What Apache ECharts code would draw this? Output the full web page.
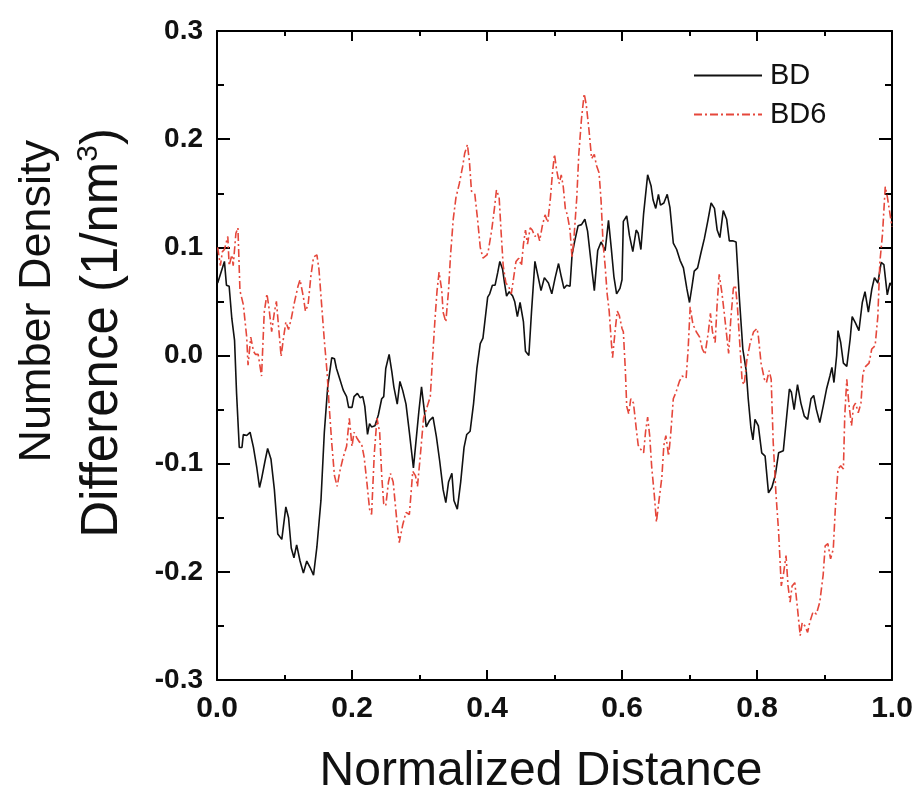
<!DOCTYPE html>
<html>
<head>
<meta charset="utf-8">
<script src="https://cdn.jsdelivr.net/npm/echarts@6/dist/echarts.min.js"></script>
<style>
html,body{margin:0;padding:0;background:#fff;}
#chart{width:917px;height:797px;}
</style>
</head>
<body>
<div id="chart"></div>
<script>
// ---- Data ----
const seriesNames = ["BD", "BD6"];
const xTicks = [0.0, 0.2, 0.4, 0.6, 0.8, 1.0];
const yTicks = [-0.3, -0.2, -0.1, 0.0, 0.1, 0.2, 0.3];

const bdX = [0.001,0.011,0.014,0.018,0.022,0.026,0.029,0.033,0.037,0.039,0.044,0.049,0.054,0.059,0.063,0.066,0.071,0.075,0.080,0.085,0.090,0.096,0.102,0.106,0.110,0.114,0.118,0.123,0.128,0.133,0.138,0.143,0.148,0.154,0.159,0.164,0.170,0.174,0.177,0.182,0.187,0.192,0.195,0.200,
0.203,0.208,0.212,0.216,0.219,0.223,0.226,0.229,0.234,0.239,0.244,0.247,0.250,0.255,0.259,0.262,0.267,0.271,0.275,0.280,0.285,0.291,0.295,0.299,0.303,0.306,0.310,0.315,0.320,0.325,0.330,0.335,0.339,0.343,0.348,0.351,0.356,0.361,0.366,0.370,0.375,0.380,0.385,0.390,0.394,
0.401,0.404,0.408,0.412,0.416,0.419,0.423,0.426,0.429,0.433,0.438,0.441,0.445,0.449,0.454,0.457,0.462,0.466,0.471,0.475,0.480,0.485,0.491,0.496,0.501,0.506,0.510,0.514,0.518,0.523,0.526,0.530,0.535,0.540,0.545,0.549,0.554,0.559,0.564,0.569,0.575,0.580,0.584,0.588,0.592,0.597,
0.600,0.602,0.607,0.611,0.616,0.621,0.624,0.628,0.632,0.638,0.643,0.646,0.650,0.654,0.657,0.662,0.667,0.671,0.676,0.681,0.686,0.691,0.696,0.700,0.704,0.707,0.712,0.717,0.722,0.727,0.732,0.737,0.741,0.745,0.750,0.755,0.759,0.764,0.769,0.774,0.779,0.784,0.787,0.791,0.794,
0.797,0.802,0.807,0.812,0.817,0.822,0.827,0.832,0.839,0.844,0.848,0.851,0.855,0.860,0.865,0.870,0.875,0.880,0.884,0.888,0.893,0.898,0.903,0.908,0.911,0.914,0.918,0.920,0.924,0.928,0.933,0.938,0.941,0.946,0.951,0.956,0.960,0.965,0.970,0.974,0.979,0.984,0.988,0.993,0.997,1.000];
const bdY = [0.067,0.087,0.065,0.064,0.034,0.014,-0.035,-0.085,-0.085,-0.073,-0.074,-0.071,-0.085,-0.104,-0.122,-0.114,-0.098,-0.086,-0.096,-0.124,-0.165,-0.170,-0.140,-0.150,-0.178,-0.187,-0.175,-0.190,-0.201,-0.190,-0.196,-0.203,-0.177,-0.134,-0.071,-0.029,-0.002,-0.003,-0.012,-0.022,-0.032,-0.038,-0.048,-0.048,
-0.038,-0.035,-0.039,-0.038,-0.047,-0.073,-0.063,-0.066,-0.065,-0.055,-0.040,-0.038,-0.012,0.001,-0.015,-0.029,-0.045,-0.024,-0.032,-0.045,-0.071,-0.104,-0.078,-0.052,-0.029,-0.045,-0.066,-0.060,-0.057,-0.075,-0.098,-0.124,-0.136,-0.117,-0.109,-0.134,-0.142,-0.117,-0.085,-0.073,-0.070,-0.045,-0.012,0.011,0.016,
0.054,0.057,0.065,0.065,0.077,0.087,0.080,0.067,0.055,0.059,0.055,0.050,0.036,0.049,0.031,0.004,0.000,0.041,0.087,0.075,0.060,0.072,0.067,0.057,0.072,0.085,0.073,0.062,0.065,0.064,0.093,0.106,0.120,0.121,0.126,0.115,0.087,0.060,0.097,0.105,0.097,0.125,0.100,0.073,0.057,0.062,
0.070,0.124,0.129,0.111,0.096,0.116,0.113,0.098,0.131,0.167,0.157,0.144,0.136,0.149,0.139,0.141,0.149,0.137,0.104,0.098,0.088,0.081,0.062,0.049,0.065,0.078,0.081,0.095,0.108,0.124,0.141,0.136,0.116,0.109,0.134,0.126,0.106,0.106,0.105,0.052,0.006,-0.014,-0.040,-0.067,-0.078,
-0.059,-0.065,-0.090,-0.093,-0.127,-0.122,-0.111,-0.090,-0.088,-0.056,-0.031,-0.034,-0.050,-0.027,-0.044,-0.056,-0.059,-0.040,-0.037,-0.050,-0.062,-0.047,-0.031,-0.019,-0.011,-0.025,0.000,0.023,0.012,-0.007,-0.010,0.015,0.036,0.030,0.023,0.049,0.059,0.040,0.061,0.072,0.067,0.086,0.084,0.056,0.067,0.064];

const bd6X = [0.001,0.005,0.008,0.011,0.016,0.018,0.022,0.024,0.028,0.031,0.034,0.039,0.044,0.046,0.050,0.054,0.057,0.061,0.066,0.070,0.074,0.077,0.081,0.085,0.088,0.092,0.095,0.098,0.102,0.106,0.110,0.115,0.120,0.123,0.128,0.131,0.135,0.139,0.143,0.148,0.151,0.155,0.159,0.163,0.166,0.170,0.174,0.178,0.182,0.187,0.192,0.196,0.200,
0.203,0.207,0.211,0.214,0.218,0.222,0.226,0.229,0.233,0.237,0.241,0.244,0.247,0.250,0.254,0.257,0.261,0.266,0.270,0.275,0.280,0.285,0.290,0.294,0.297,0.301,0.306,0.311,0.316,0.319,0.323,0.326,0.329,0.333,0.335,0.339,0.343,0.346,0.350,0.354,0.359,0.364,0.367,0.371,0.374,0.377,0.382,0.386,0.390,0.394,0.400,
0.402,0.407,0.411,0.414,0.418,0.421,0.424,0.428,0.432,0.436,0.439,0.443,0.447,0.451,0.454,0.457,0.460,0.464,0.467,0.471,0.475,0.478,0.482,0.486,0.490,0.494,0.497,0.500,0.503,0.507,0.510,0.513,0.516,0.519,0.523,0.526,0.529,0.533,0.536,0.540,0.544,0.547,0.551,0.555,0.559,0.562,0.566,0.569,0.572,0.575,0.578,0.581,0.584,0.586,0.590,0.593,0.596,
0.600,0.602,0.605,0.607,0.610,0.613,0.617,0.621,0.624,0.628,0.632,0.635,0.638,0.641,0.644,0.648,0.651,0.655,0.659,0.662,0.665,0.669,0.672,0.676,0.680,0.685,0.689,0.695,0.698,0.701,0.705,0.710,0.715,0.719,0.723,0.728,0.731,0.734,0.738,0.741,0.744,0.748,0.751,0.755,0.758,0.761,0.765,0.768,0.771,0.775,0.778,0.781,0.785,0.790,0.795,
0.800,0.802,0.806,0.811,0.814,0.818,0.821,0.824,0.828,0.832,0.836,0.839,0.843,0.846,0.849,0.852,0.856,0.860,0.864,0.867,0.871,0.875,0.878,0.883,0.888,0.893,0.898,0.901,0.905,0.909,0.913,0.916,0.920,0.924,0.928,0.930,0.933,0.936,0.940,0.943,0.946,0.950,0.954,0.957,0.961,0.966,0.970,0.975,0.979,0.982,0.986,0.990,0.993,0.996,1.000];
const bd6Y = [0.100,0.083,0.096,0.098,0.110,0.083,0.093,0.083,0.113,0.118,0.060,0.047,0.017,-0.009,0.017,0.004,0.001,0.001,-0.019,0.040,0.057,0.044,0.022,0.040,0.050,0.021,-0.001,0.014,0.031,0.024,0.034,0.050,0.064,0.070,0.054,0.041,0.047,0.073,0.091,0.093,0.080,0.047,0.014,-0.015,-0.045,-0.081,-0.111,-0.121,-0.107,-0.094,-0.084,-0.058,-0.084,
-0.071,-0.076,-0.080,-0.081,-0.094,-0.117,-0.142,-0.147,-0.091,-0.058,-0.071,-0.111,-0.137,-0.139,-0.117,-0.109,-0.117,-0.150,-0.173,-0.157,-0.145,-0.147,-0.107,-0.111,-0.121,-0.094,-0.058,-0.048,-0.038,-0.006,0.034,0.060,0.077,0.060,0.040,0.031,0.060,0.093,0.126,0.146,0.159,0.175,0.187,0.195,0.179,0.152,0.149,0.126,0.100,0.090,0.093,
0.097,0.116,0.136,0.153,0.146,0.113,0.083,0.067,0.064,0.057,0.070,0.087,0.090,0.083,0.103,0.116,0.103,0.118,0.116,0.110,0.113,0.106,0.120,0.130,0.123,0.146,0.169,0.186,0.172,0.159,0.167,0.156,0.136,0.130,0.116,0.090,0.110,0.146,0.186,0.219,0.242,0.232,0.209,0.182,0.186,0.176,0.169,0.143,0.103,0.083,0.057,0.041,0.014,-0.002,0.024,0.041,0.037,
0.025,0.022,-0.014,-0.047,-0.054,-0.040,-0.044,-0.067,-0.083,-0.087,-0.090,-0.070,-0.057,-0.074,-0.103,-0.130,-0.154,-0.133,-0.113,-0.083,-0.074,-0.093,-0.074,-0.040,-0.034,-0.024,-0.019,-0.021,0.006,0.045,0.029,0.022,0.017,0.006,0.001,0.022,0.039,0.022,0.012,0.048,0.075,0.058,0.042,0.019,0.002,0.032,0.062,0.065,0.045,0.006,-0.024,-0.027,-0.004,0.012,0.022,
0.025,0.018,-0.007,-0.022,-0.025,-0.014,-0.022,-0.080,-0.127,-0.163,-0.213,-0.203,-0.185,-0.213,-0.228,-0.213,-0.210,-0.234,-0.259,-0.247,-0.250,-0.256,-0.247,-0.237,-0.239,-0.228,-0.203,-0.176,-0.174,-0.188,-0.179,-0.142,-0.105,-0.102,-0.105,-0.056,-0.022,-0.044,-0.065,-0.047,-0.044,-0.053,-0.044,-0.016,-0.010,-0.007,0.006,0.009,0.036,0.086,0.113,0.156,0.147,0.135,0.119];

const xTitle = "Normalized Distance";
const yTitleLine1 = "Number Density";
const yTitleLine2 = "Difference (1/nm{sup|3})";

// ---- Build ----
const FONT = "'Liberation Sans', Arial, sans-serif";
const zip = (xs, ys) => xs.map((x, i) => [x, ys[i]]);
const fmt = v => { const s = (Math.round(v * 10) / 10).toFixed(1); return s === "-0.0" ? "0.0" : s; };

const axisLine = { show: true, onZero: false, lineStyle: { color: "#000", width: 2 } };

function xAxisDef(pos, showLabels) {
  return {
    type: "value", position: pos, min: xTicks[0], max: xTicks[xTicks.length - 1], interval: 0.2,
    axisLine: axisLine,
    axisTick: { show: true, inside: true, length: 10, lineStyle: { color: "#000", width: 2 } },
    minorTick: { show: true, splitNumber: 2, length: 5, lineStyle: { color: "#000", width: 2 } },
    axisLabel: { show: showLabels, formatter: fmt, fontFamily: FONT, fontWeight: "bold", fontSize: 30, color: "#111", margin: 14 },
    splitLine: { show: false }, minorSplitLine: { show: false }
  };
}
function yAxisDef(pos, showLabels) {
  return {
    type: "value", position: pos, min: yTicks[0], max: yTicks[yTicks.length - 1], interval: 0.1,
    axisLine: axisLine,
    axisTick: { show: true, inside: true, length: 13, lineStyle: { color: "#000", width: 2 } },
    minorTick: { show: true, splitNumber: 2, length: 7, lineStyle: { color: "#000", width: 2 } },
    axisLabel: { show: showLabels, formatter: fmt, fontFamily: FONT, fontWeight: "bold", fontSize: 28, color: "#111", margin: 14 },
    splitLine: { show: false }, minorSplitLine: { show: false }
  };
}

const chart = echarts.init(document.getElementById("chart"), null, { renderer: "canvas" });
chart.setOption({
  animation: false,
  backgroundColor: "#fff",
  grid: { left: 217, right: 25, top: 31, bottom: 117, containLabel: false },
  xAxis: [xAxisDef("bottom", true), xAxisDef("top", false)],
  yAxis: [yAxisDef("left", true), yAxisDef("right", false)],
  legend: {
    orient: "vertical", left: 688, top: 56, itemWidth: 68, itemHeight: 14, itemGap: 10,
    itemStyle: { color: "rgba(0,0,0,0)", borderColor: "rgba(0,0,0,0)", borderWidth: 0, opacity: 0 },
    textStyle: { fontFamily: FONT, fontSize: 29, color: "#111", lineHeight: 28, padding: [0, 0, 0, 3] },
    data: [seriesNames[0], seriesNames[1]]
  },
  series: [
    { name: seriesNames[0], type: "line", data: zip(bdX, bdY), showSymbol: false, symbol: "none",
      lineStyle: { color: "#111", width: 1.6 }, itemStyle: { color: "#111" } },
    { name: seriesNames[1], type: "line", data: zip(bd6X, bd6Y), showSymbol: false, symbol: "none",
      lineStyle: { color: "#e5473b", width: 1.6, type: [8, 3, 2, 3] }, itemStyle: { color: "#e5473b" } }
  ],
  graphic: [
    { type: "text", x: 38, y: 140, rotation: Math.PI / 2,
      style: { text: yTitleLine1, fontFamily: FONT, fontSize: 45, fill: "#111", align: "right", verticalAlign: "middle" } },
    { type: "text", x: 103, y: 128, rotation: Math.PI / 2,
      style: { text: yTitleLine2, fontFamily: FONT, fontSize: 51, fill: "#111", align: "right", verticalAlign: "middle",
        rich: { sup: { fontFamily: FONT, fontSize: 30, fill: "#111", verticalAlign: "top", padding: [0, 0, 28, 0] } } } },
    { type: "text", x: 541, y: 772,
      style: { text: xTitle, fontFamily: FONT, fontSize: 48, fill: "#111", align: "center", verticalAlign: "middle" } }
  ]
});
</script>
</body>
</html>
